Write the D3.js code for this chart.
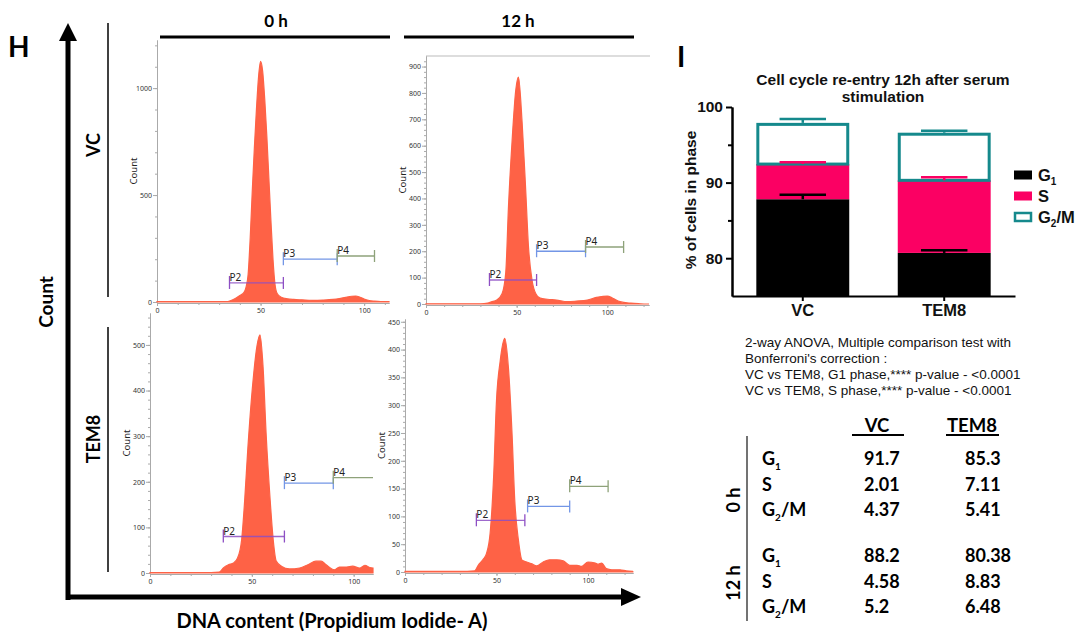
<!DOCTYPE html>
<html>
<head>
<meta charset="utf-8">
<script src="https://d3js.org/d3.v7.min.js"></script>
<style>
	body { margin: 0; background: #fff; }
	svg { display: block; }
	.cal { font-family: Lato, "Open Sans", sans-serif; font-weight: 700; fill: #000; }
	.arial { font-family: "Liberation Sans", Arial, sans-serif; fill: #111; }
	.hist .tick text { font-family: "Noto Sans", sans-serif; font-size: 7px; fill: #333; }
	.hist .domain, .hist .tick line { stroke: #aaa; }
	.bar .domain, .bar .tick line { stroke: #000; stroke-width: 2; }
	.bar .tick text { font-family: "Liberation Sans", Arial, sans-serif; font-size: 15.5px; font-weight: 700; fill: #111; }
	.bar .xax .tick text { font-size: 16.5px; }
</style>
</head>
<body>
<div id="container"></div>
<script>

// ---- panel H : DNA content histograms (x = PI-A, count) ----
var histXTicks = [0, 50, 100];
var gateNames = ["P2", "P3", "P4"];

var vc0X     = [0, 10, 20, 30, 34, 36, 38, 40, 42, 43, 44, 45, 46, 47, 48, 49, 50, 51, 52, 53, 54, 55, 56, 57, 58, 60, 63, 66, 70, 75, 80, 85, 88, 91, 94, 96, 98, 100, 102, 105, 108, 112];
var vc0Count = [2, 2, 2, 2, 2, 8, 18, 30, 45, 70, 130, 300, 520, 720, 900, 1050, 1125, 1080, 950, 780, 580, 380, 200, 80, 40, 22, 15, 12, 10, 8, 9, 12, 16, 22, 27, 28, 22, 14, 8, 4, 2, 2];
var vc0YTicks = [0, 500, 1000];
var vc0GateFrom = [35, 61, 87], vc0GateTo = [61, 87, 105], vc0GateLevel = [89, 200, 215];

var vc12X     = [0, 10, 20, 30, 34, 36, 39, 42, 44, 45.5, 47.5, 49.5, 51, 53, 55, 56.5, 58.5, 60.5, 63, 67, 72, 78, 83, 89, 94, 97, 100, 103, 107, 113, 118, 123];
var vc12Count = [1, 1, 1, 1, 3, 8, 15, 40, 120, 370, 620, 810, 860, 690, 430, 220, 90, 40, 22, 18, 15, 9, 11, 15, 25, 28, 30, 22, 9, 3, 1, 0];
var vc12YTicks = [0, 100, 200, 300, 400, 500, 600, 700, 800, 900];
var vc12GateFrom = [35, 61, 88], vc12GateTo = [61, 88, 109], vc12GateLevel = [91, 200, 216];

var tem0X     = [0, 10, 20, 30, 34, 36, 38.5, 41, 43, 45, 46.5, 48, 50.5, 52.5, 54, 55.5, 57, 59, 60.5, 62, 64.5, 68.5, 73.5, 77.5, 81.5, 84, 86.5, 90.5, 93, 96.5, 99.5, 103, 105.5, 108, 109.5];
var tem0Count = [1, 1, 1, 1, 2, 11, 18, 22, 33, 73, 160, 270, 417, 497, 522, 453, 307, 160, 73, 26, 15, 9, 11, 18, 26, 26, 18, 7, 13, 13, 15, 11, 17, 12, 11];
var tem0YTicks = [0, 100, 200, 300, 400, 500];
var tem0GateFrom = [36, 66, 90], tem0GateTo = [66, 90, 109.5], tem0GateLevel = [80, 197, 209];

var tem12X     = [0, 10, 20, 30, 38, 40, 43, 44.5, 46.5, 48.5, 50, 52, 54.5, 56.5, 58.5, 60, 62, 64, 66.5, 69, 72, 75.5, 79, 83, 86.5, 90, 94, 96.5, 100, 104, 105.5, 107.5, 110, 113, 117.5, 121, 124.5];
var tem12Count = [1, 1, 1, 1, 2, 12, 24, 33, 69, 176, 308, 379, 420, 368, 248, 128, 57, 21, 18, 15, 11, 18, 22, 22, 20, 12, 12, 10, 18, 16, 14, 16, 6, 4, 4, 2, 1];
var tem12YTicks = [0, 50, 100, 150, 200, 250, 300, 350, 400, 450];
var tem12GateFrom = [39, 67, 90], tem12GateTo = [65.5, 90, 111], tem12GateLevel = [93, 118, 154];

// ---- panel I : stacked cell cycle bars ----
var groups = ["VC", "TEM8"];
var phaseKeys = ["G1", "S", "G2/M"];
var g1Mean = [87.8, 80.7], g1Err = [0.6, 0.35];
var sMean = [4.65, 9.6], sErr = [0.25, 0.4];
var g2mMean = [5.45, 6.3], g2mErr = [0.5, 0.25];
var barYTicks = [80, 90, 100], barYMinor = [85, 95];

// ---- table ----
var tablePhases = ["G1", "S", "G2/M"];
var table0hVC = ["91.7", "2.01", "4.37"], table0hTEM8 = ["85.3", "7.11", "5.41"];
var table12hVC = ["88.2", "4.58", "5.2"], table12hTEM8 = ["80.38", "8.83", "6.48"];

var statsLines = [
	"2-way ANOVA, Multiple comparison test with",
	"Bonferroni's correction :",
	"VC vs TEM8, G1 phase,**** p-value - <0.0001",
	"VC vs TEM8, S phase,**** p-value - <0.0001"
];

var histColor = "#fe6246";
var gateColors = ["#8d4fc4", "#7396e6", "#8ea27a"];
var phaseColors = ["#000000", "#fb0063", "#15898c"];

var svg = d3.select("#container").append("svg")
	.attr("width", 1084).attr("height", 633);

// subscript labels like G1, G2/M
function phaseLabel(t, name, subSize, shift) {
	var m = name.match(/^G(\d)(.*)$/);
	if (!m) { t.text(name); return; }
	t.append("tspan").text("G");
	t.append("tspan").attr("font-size", subSize).attr("dy", shift).text(m[1]);
	if (m[2]) t.append("tspan").attr("dy", -shift).text(m[2]);
}

function drawHistogram(p) {
	var g = svg.append("g").attr("class", "hist");
	var x = d3.scaleLinear().domain([0, p.xMax]).range([p.left, p.right]);
	var y = d3.scaleLinear().domain([0, p.yMax]).range([p.zero, p.top]);

	if (p.frame) {
		g.append("line").attr("x1", x(0)).attr("x2", p.right + 1)
			.attr("y1", p.top).attr("y2", p.top).attr("stroke", "#bbb");
	}

	g.append("g").attr("transform", "translate(" + x(0) + ",0)")
		.call(d3.axisLeft(y).tickValues(d3.range(0, p.yMax, p.yMinor)).tickSize(2).tickSizeOuter(0).tickFormat(""));
	g.append("g").attr("transform", "translate(" + x(0) + ",0)")
		.call(d3.axisLeft(y).tickValues(p.yTicks).tickSize(4).tickSizeOuter(0).tickPadding(1).tickFormat(d3.format("d")));
	g.append("g").attr("transform", "translate(0," + (p.zero + 1) + ")")
		.call(d3.axisBottom(x).tickValues(d3.range(0, p.xMax, 10)).tickSize(2).tickSizeOuter(0).tickFormat(""));
	g.append("g").attr("transform", "translate(0," + (p.zero + 1) + ")")
		.call(d3.axisBottom(x).tickValues(histXTicks).tickSize(3).tickSizeOuter(0).tickPadding(2));

	g.append("text")
		.attr("transform", "translate(" + (x(0) - 20) + "," + ((p.zero + p.top) / 2) + ") rotate(-90)")
		.attr("text-anchor", "middle")
		.attr("font-family", "'Noto Sans', sans-serif").attr("font-size", 9.5).attr("fill", "#222")
		.text("Count");

	var pts = p.x.map(function(v, i) { return [v, p.c[i]]; });
	var area = d3.area()
		.x(function(d) { return x(d[0]); })
		.y0(y(0))
		.y1(function(d) { return y(d[1]); })
		.curve(d3.curveMonotoneX);
	g.append("path").datum(pts).attr("d", area)
		.attr("fill", histColor).attr("stroke", histColor).attr("stroke-width", 1.2);

	gateNames.forEach(function(name, i) {
		var x1 = x(p.from[i]), x2 = x(p.to[i]), ly = y(p.level[i]);
		var col = gateColors[i];
		g.append("line").attr("x1", x1).attr("x2", x2).attr("y1", ly).attr("y2", ly)
			.attr("stroke", col).attr("stroke-width", 1.3).attr("stroke-opacity", i === 0 ? 0.85 : 1);
		g.append("line").attr("x1", x1).attr("x2", x1).attr("y1", ly - 7).attr("y2", ly + 6)
			.attr("stroke", col).attr("stroke-width", 1.3);
		if (p.to[i] < p.xMax) {
			g.append("line").attr("x1", x2).attr("x2", x2).attr("y1", ly - 6).attr("y2", ly + 6)
				.attr("stroke", col).attr("stroke-width", 1.3);
		}
		g.append("text").attr("x", x1).attr("y", ly - 2)
			.attr("font-family", "'Noto Sans', sans-serif").attr("font-size", 10).attr("fill", "#222")
			.text(name);
	});
}

drawHistogram({x: vc0X, c: vc0Count, yTicks: vc0YTicks, yMinor: 100, from: vc0GateFrom, to: vc0GateTo, level: vc0GateLevel,
	left: 157, right: 389, zero: 302, top: 40, xMax: 112, yMax: 1225});
drawHistogram({x: vc12X, c: vc12Count, yTicks: vc12YTicks, yMinor: 20, from: vc12GateFrom, to: vc12GateTo, level: vc12GateLevel,
	left: 426, right: 649, zero: 304, top: 56, xMax: 123, yMax: 940, frame: true});
drawHistogram({x: tem0X, c: tem0Count, yTicks: tem0YTicks, yMinor: 20, from: tem0GateFrom, to: tem0GateTo, level: tem0GateLevel,
	left: 150, right: 373, zero: 573, top: 313, xMax: 109.5, yMax: 570});
drawHistogram({x: tem12X, c: tem12Count, yTicks: tem12YTicks, yMinor: 10, from: tem12GateFrom, to: tem12GateTo, level: tem12GateLevel,
	left: 405, right: 633, zero: 572, top: 319, xMax: 124.6, yMax: 455});

// ---- panel H frame: arrows, group labels ----
var deco = svg.append("g");
deco.append("text").attr("class", "cal").attr("x", 8).attr("y", 57).attr("font-size", 28).text("H");
deco.append("line").attr("x1", 68).attr("x2", 68).attr("y1", 600).attr("y2", 38).attr("stroke", "#000").attr("stroke-width", 5);
deco.append("path").attr("d", "M59,41 L77,41 L68,23 Z").attr("fill", "#000");
deco.append("line").attr("x1", 66).attr("x2", 624).attr("y1", 597).attr("y2", 597).attr("stroke", "#000").attr("stroke-width", 5);
deco.append("path").attr("d", "M621,588 L621,606 L641,597 Z").attr("fill", "#000");

deco.append("text").attr("class", "cal").attr("font-size", 19).attr("text-anchor", "middle")
	.attr("transform", "translate(53,302) rotate(-90)").text("Count");
deco.append("text").attr("class", "cal").attr("font-size", 20).attr("text-anchor", "middle")
	.attr("x", 332).attr("y", 628).text("DNA content (Propidium Iodide- A)");

deco.append("text").attr("class", "cal").attr("font-size", 18).attr("text-anchor", "middle")
	.attr("transform", "translate(100,145) rotate(-90)").text("VC");
deco.append("line").attr("x1", 108).attr("x2", 108).attr("y1", 23).attr("y2", 297).attr("stroke", "#000").attr("stroke-width", 1.5);
deco.append("text").attr("class", "cal").attr("font-size", 18).attr("text-anchor", "middle")
	.attr("transform", "translate(100,439) rotate(-90)").text("TEM8");
deco.append("line").attr("x1", 108).attr("x2", 108).attr("y1", 327).attr("y2", 572).attr("stroke", "#000").attr("stroke-width", 1.5);

deco.append("text").attr("class", "cal").attr("font-size", 17).attr("text-anchor", "middle")
	.attr("x", 276).attr("y", 27).text("0 h");
deco.append("line").attr("x1", 160).attr("x2", 390).attr("y1", 37).attr("y2", 37).attr("stroke", "#000").attr("stroke-width", 3);
deco.append("text").attr("class", "cal").attr("font-size", 17).attr("text-anchor", "middle")
	.attr("x", 518).attr("y", 27).text("12 h");
deco.append("line").attr("x1", 404).attr("x2", 634).attr("y1", 37).attr("y2", 37).attr("stroke", "#000").attr("stroke-width", 3);

// ---- panel I : stacked bar chart ----
var bar = svg.append("g").attr("class", "bar");
bar.append("text").attr("class", "cal").attr("x", 677).attr("y", 67).attr("font-size", 28).text("I");

var by = d3.scaleLinear().domain([75, 100]).range([296, 107]);
var bx = d3.scaleBand().domain(groups).range([732, 1015]).paddingInner(0.343).paddingOuter(0.172);
var bw = bx.bandwidth();

bar.append("text").attr("class", "arial").attr("text-anchor", "middle").attr("font-size", 15.5).attr("font-weight", 700)
	.attr("x", 883).attr("y", 85).text("Cell cycle re-entry 12h after serum");
bar.append("text").attr("class", "arial").attr("text-anchor", "middle").attr("font-size", 15.5).attr("font-weight", 700)
	.attr("x", 883).attr("y", 102).text("stimulation");

groups.forEach(function(gname, i) {
	var x0 = bx(gname);
	var g1Top = g1Mean[i], sTop = g1Top + sMean[i], gTop = sTop + g2mMean[i];
	bar.append("rect").attr("x", x0).attr("width", bw)
		.attr("y", by(g1Top)).attr("height", by(75) - by(g1Top)).attr("fill", phaseColors[0]);
	bar.append("rect").attr("x", x0).attr("width", bw)
		.attr("y", by(sTop)).attr("height", by(g1Top) - by(sTop)).attr("fill", phaseColors[1]);
	bar.append("rect").attr("x", x0 + 1.5).attr("width", bw - 3)
		.attr("y", by(gTop) + 1.5).attr("height", by(sTop) - by(gTop) - 1.5)
		.attr("fill", "#fff").attr("stroke", phaseColors[2]).attr("stroke-width", 3);

	var tops = [g1Top, sTop, gTop], errs = [g1Err[i], sErr[i], g2mErr[i]];
	var cx = x0 + bw / 2;
	tops.forEach(function(t, k) {
		var ey = by(t + errs[k]);
		bar.append("line").attr("x1", cx).attr("x2", cx).attr("y1", by(t)).attr("y2", ey)
			.attr("stroke", phaseColors[k]).attr("stroke-width", 2.5);
		bar.append("line").attr("x1", cx - bw * 0.25).attr("x2", cx + bw * 0.25).attr("y1", ey).attr("y2", ey)
			.attr("stroke", phaseColors[k]).attr("stroke-width", 2.5);
	});
});

bar.append("g").attr("transform", "translate(732,0)")
	.call(d3.axisLeft(by).tickValues(barYMinor).tickSize(4).tickSizeOuter(0).tickFormat(""));
bar.append("g").attr("transform", "translate(732,0)")
	.call(d3.axisLeft(by).tickValues(barYTicks).tickSize(6).tickSizeOuter(0).tickPadding(3));
bar.append("g").attr("class", "xax").attr("transform", "translate(0,296)")
	.call(d3.axisBottom(bx).tickSize(5).tickSizeOuter(0).tickPadding(3));

bar.append("text").attr("class", "arial").attr("text-anchor", "middle").attr("font-size", 15.5).attr("font-weight", 700)
	.attr("transform", "translate(696,200) rotate(-90)").text("% of cells in phase");

phaseKeys.forEach(function(k, i) {
	var cy = 175 + i * 21;
	var r = bar.append("rect").attr("x", 1014).attr("y", cy - 4.5).attr("width", 18).attr("height", 9);
	if (i === 2) r.attr("x", 1015).attr("y", cy - 4).attr("width", 16).attr("height", 8).attr("fill", "#fff").attr("stroke", phaseColors[2]).attr("stroke-width", 2.5);
	else r.attr("fill", phaseColors[i]);
	var t = bar.append("text").attr("class", "arial").attr("font-size", 16.5).attr("font-weight", 700)
		.attr("x", 1038).attr("y", cy + 6);
	phaseLabel(t, k, 10, 4);
});

// ---- statistics note ----
statsLines.forEach(function(s, i) {
	svg.append("text").attr("class", "arial").attr("font-size", 13.5)
		.attr("x", 745).attr("y", 347 + i * 16).text(s);
});

// ---- table ----
var tab = svg.append("g");
tab.append("text").attr("class", "cal").attr("font-size", 18.5).attr("text-anchor", "middle").attr("x", 877).attr("y", 432).text("VC");
tab.append("line").attr("x1", 852).attr("x2", 904).attr("y1", 435).attr("y2", 435).attr("stroke", "#000").attr("stroke-width", 2);
tab.append("text").attr("class", "cal").attr("font-size", 18.5).attr("text-anchor", "middle").attr("x", 972).attr("y", 432).text("TEM8");
tab.append("line").attr("x1", 946).attr("x2", 999).attr("y1", 435).attr("y2", 435).attr("stroke", "#000").attr("stroke-width", 2);
tab.append("line").attr("x1", 747).attr("x2", 747).attr("y1", 436).attr("y2", 621).attr("stroke", "#444").attr("stroke-width", 1.5);

[
	{label: "0 h", mid: 500, base: 465, vc: table0hVC, tem: table0hTEM8},
	{label: "12 h", mid: 583, base: 562, vc: table12hVC, tem: table12hTEM8}
].forEach(function(blk) {
	tab.append("text").attr("class", "cal").attr("font-size", 18).attr("text-anchor", "middle")
		.attr("transform", "translate(740," + blk.mid + ") rotate(-90)").text(blk.label);
	tablePhases.forEach(function(ph, i) {
		var yb = blk.base + i * 25.5;
		var t = tab.append("text").attr("class", "cal").attr("font-size", 18).attr("x", 762).attr("y", yb);
		phaseLabel(t, ph, 10, 5);
		tab.append("text").attr("class", "cal").attr("font-size", 18).attr("x", 864).attr("y", yb).text(blk.vc[i]);
		tab.append("text").attr("class", "cal").attr("font-size", 18).attr("x", 965).attr("y", yb).text(blk.tem[i]);
	});
});

</script>
</body>
</html>
